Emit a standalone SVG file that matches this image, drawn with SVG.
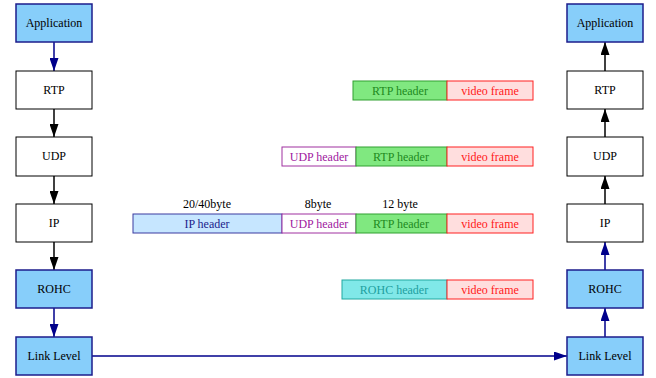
<svg xmlns="http://www.w3.org/2000/svg" width="656" height="378" viewBox="0 0 656 378" font-family="'Liberation Serif', 'DejaVu Serif', serif">
<defs>
<marker id="ak" viewBox="0 0 13 9" refX="13" refY="4.5" markerWidth="13" markerHeight="9" markerUnits="userSpaceOnUse" orient="auto"><path d="M0,0 L13,4.5 L0,9 z" fill="#000"/></marker>
<marker id="ab" viewBox="0 0 13 9" refX="13" refY="4.5" markerWidth="13" markerHeight="9" markerUnits="userSpaceOnUse" orient="auto"><path d="M0,0 L13,4.5 L0,9 z" fill="#00008b"/></marker>
</defs>
<style>
text{font-family:'Liberation Serif', 'DejaVu Serif', serif;font-size:12px;text-anchor:middle}
.w{fill:#fff;stroke:#000;stroke-width:1}
.b{fill:#87cefa;stroke:#1c1c8c;stroke-width:1.5}
.ek{stroke:#000;stroke-width:1.5;fill:none;marker-end:url(#ak)}
.eb{stroke:#00008b;stroke-width:1.5;fill:none;marker-end:url(#ab)}
.ip{fill:#c6e6ff;stroke:#3a3aa0}
.udp{fill:#fff;stroke:#a030a0}
.rtp{fill:#80e880;stroke:#30a030}
.vf{fill:#ffdede;stroke:#ff2020}
.rohc{fill:#80e8e8;stroke:#20a8a0}
</style>
<g id="connectors">
<line class="eb" x1="54" y1="42" x2="54" y2="71"/>
<line class="ek" x1="54" y1="109" x2="54" y2="137"/>
<line class="ek" x1="54" y1="176" x2="54" y2="204"/>
<line class="ek" x1="54" y1="242" x2="54" y2="270"/>
<line class="eb" x1="54" y1="308" x2="54" y2="337"/>
<line class="eb" x1="92" y1="356" x2="567" y2="356"/>
<line class="eb" x1="605" y1="337" x2="605" y2="308"/>
<line class="eb" x1="605" y1="270" x2="605" y2="242"/>
<line class="ek" x1="605" y1="204" x2="605" y2="176"/>
<line class="ek" x1="605" y1="137" x2="605" y2="109"/>
<line class="ek" x1="605" y1="71" x2="605" y2="42"/>
</g>
<g id="l_app"><rect class="b" x="16" y="4" width="76" height="38"/><text x="54" y="27">Application</text></g>
<g id="l_rtp"><rect class="w" x="16" y="71" width="76" height="38"/><text x="54" y="94">RTP</text></g>
<g id="l_udp"><rect class="w" x="16" y="137" width="76" height="39"/><text x="54" y="160">UDP</text></g>
<g id="l_ip"><rect class="w" x="16" y="204" width="76" height="38"/><text x="54" y="227">IP</text></g>
<g id="l_rohc"><rect class="b" x="16" y="270" width="76" height="38"/><text x="54" y="293">ROHC</text></g>
<g id="l_link"><rect class="b" x="16" y="337" width="76" height="38"/><text x="54" y="360">Link Level</text></g>
<g id="r_app"><rect class="b" x="567" y="4" width="76" height="38"/><text x="605" y="27">Application</text></g>
<g id="r_rtp"><rect class="w" x="567" y="71" width="76" height="38"/><text x="605" y="94">RTP</text></g>
<g id="r_udp"><rect class="w" x="567" y="137" width="76" height="39"/><text x="605" y="160">UDP</text></g>
<g id="r_ip"><rect class="w" x="567" y="204" width="76" height="38"/><text x="605" y="227">IP</text></g>
<g id="r_rohc"><rect class="b" x="567" y="270" width="76" height="38"/><text x="605" y="293">ROHC</text></g>
<g id="r_link"><rect class="b" x="567" y="337" width="76" height="38"/><text x="605" y="360">Link Level</text></g>
<g id="pkt_rtp">
<rect class="rtp" x="353" y="81" width="94" height="19"/><text x="400" y="95" fill="#208a20">RTP header</text>
<rect class="vf" x="447" y="81" width="86" height="19"/><text x="490" y="95" fill="#ff2020">video frame</text>
</g>
<g id="pkt_udp">
<rect class="udp" x="282" y="147" width="74" height="19"/><text x="319" y="161" fill="#a020a0">UDP header</text>
<rect class="rtp" x="356" y="147" width="91" height="19"/><text x="401" y="161" fill="#208a20">RTP header</text>
<rect class="vf" x="447" y="147" width="86" height="19"/><text x="490" y="161" fill="#ff2020">video frame</text>
</g>
<g id="pkt_ip">
<text x="207" y="208">20/40byte</text>
<text x="318" y="208">8byte</text>
<text x="400" y="208">12 byte</text>
<rect class="ip" x="133" y="214" width="149" height="19"/><text x="207" y="228" fill="#1c1c8c">IP header</text>
<rect class="udp" x="282" y="214" width="74" height="19"/><text x="319" y="228" fill="#a020a0">UDP header</text>
<rect class="rtp" x="356" y="214" width="91" height="19"/><text x="401" y="228" fill="#208a20">RTP header</text>
<rect class="vf" x="447" y="214" width="86" height="19"/><text x="490" y="228" fill="#ff2020">video frame</text>
</g>
<g id="pkt_rohc">
<rect class="rohc" x="342" y="280" width="105" height="19"/><text x="394" y="294" fill="#20a0a0">ROHC header</text>
<rect class="vf" x="447" y="280" width="86" height="19"/><text x="490" y="294" fill="#ff2020">video frame</text>
</g>
</svg>
